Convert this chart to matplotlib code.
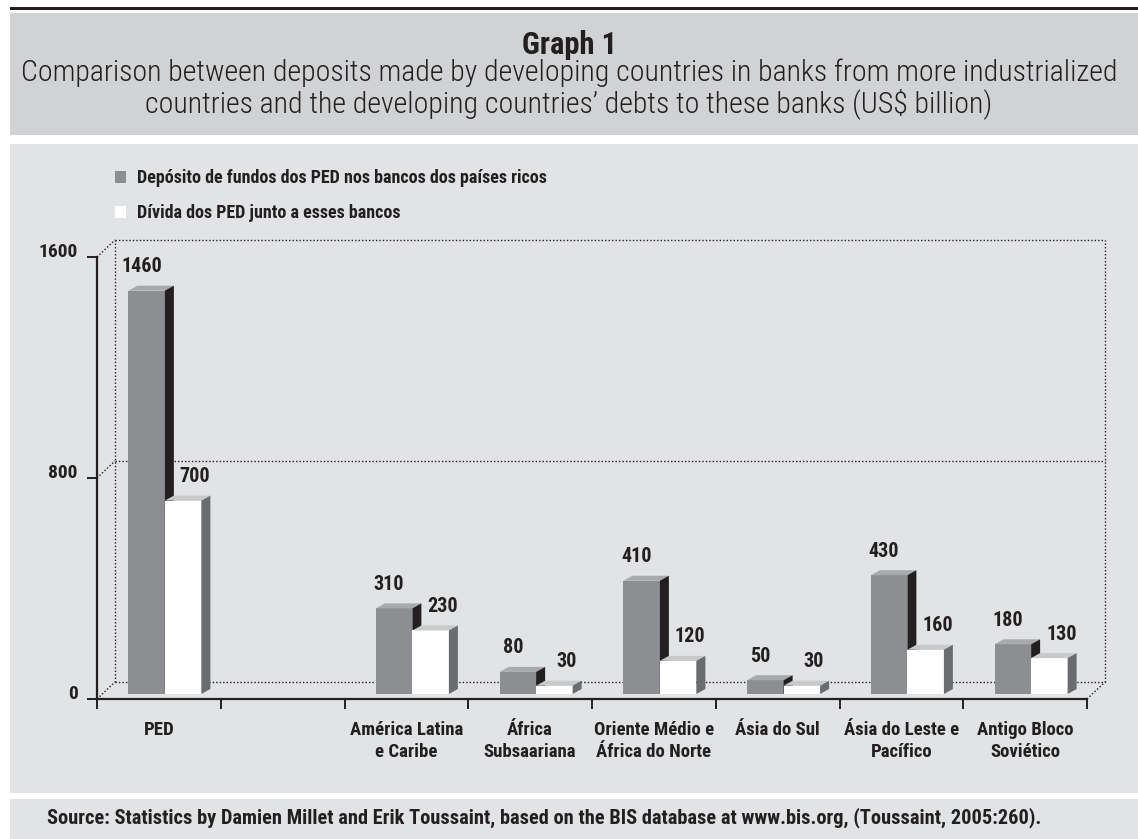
import numpy as np
import matplotlib
matplotlib.use("Agg")
import matplotlib.pyplot as plt
from matplotlib.patches import Rectangle, Polygon, Patch
from matplotlib.lines import Line2D
from matplotlib.transforms import offset_copy, IdentityTransform

plt.rcParams['font.family'] = ['Roboto Condensed', 'Liberation Sans Narrow', 'Open Sans Condensed',
                               'DejaVu Sans']
plt.rcParams['font.stretch'] = 'condensed'

# ---------------- data ----------------
categories = ["PED", "", "América Latina\ne Caribe", "África\nSubsaariana",
              "Oriente Médio e\nÁfrica do Norte", "Ásia do Sul",
              "Ásia do Leste e\nPacífico", "Antigo Bloco\nSoviético"]
deposits = [1460, np.nan, 310, 80, 410, 50, 430, 180]
debts = [700, np.nan, 230, 30, 120, 30, 160, 130]
yticks = [0, 800, 1600]
series_names = ["Depósito de fundos dos PED nos bancos dos países ricos",
                "Dívida dos PED junto a esses bancos"]
title = "Graph 1"
subtitle = ("Comparison between deposits made by developing countries in banks from more industrialized\n"
            "countries and the developing countries\u2019 debts to these banks (US$ billion)")
source = ("Source: Statistics by Damien Millet and Erik Toussaint, based on the BIS database at "
          "www.bis.org, (Toussaint, 2005:260).")

# ---------------- style ----------------
INK = '#231f20'
TITLE_BG = '#d1d2d4'
PLOT_BG = '#e2e3e5'
GRAY_FRONT, GRAY_TOP, GRAY_SIDE = '#8d8e91', '#a9aaac', '#231f20'
WHITE_FRONT, WHITE_TOP, WHITE_SIDE = '#ffffff', '#c8c9cb', '#6b6c6f'

W, H = 1138, 839
fig = plt.figure(figsize=(W / 100, H / 100), dpi=100)
fig.patch.set_facecolor('white')


def fx(px):
    return px / W


def fy(py):
    return 1 - py / H


# panels
fig.add_artist(Rectangle((fx(10), fy(9.8)), fx(1128), 3.2 / H, transform=fig.transFigure,
                         facecolor=INK, lw=0, zorder=0))
fig.add_artist(Rectangle((fx(10), fy(135)), fx(1128), 122 / H, transform=fig.transFigure,
                         facecolor=TITLE_BG, lw=0, zorder=0))
fig.add_artist(Rectangle((fx(10), fy(793)), fx(1128), 649 / H, transform=fig.transFigure,
                         facecolor=PLOT_BG, lw=0, zorder=0))
fig.add_artist(Rectangle((fx(10), fy(839)), fx(1128), 40 / H, transform=fig.transFigure,
                         facecolor=PLOT_BG, lw=0, zorder=0))

fig.text(fx(569), fy(45), title, ha='center', va='center', fontsize=22, weight='bold', color=INK)
fig.text(fx(569), fy(89), subtitle, ha='center', va='center', fontsize=21.5, weight='light',
         color=INK, linespacing=1.06)
fig.text(fx(47), fy(818), source, ha='left', va='center', fontsize=14.7, weight='bold', color=INK)

# ---------------- axes ----------------
ax = fig.add_axes([fx(97), fy(699), fx(990), 442 / H])
ax.patch.set_alpha(0)
n = len(categories)
x = np.arange(n)
w = 0.295

# front faces of the bars sit slightly inside the depth of the floor
bar_trans = offset_copy(ax.transData, fig=fig, x=6, y=5, units='dots')
DX, DY = 9, 5          # bar depth (px)
BX, BY = 18, 17        # wall depth (px)

ax.set_xlim(-0.5, n - 0.5)
ax.set_ylim(0, 1600)

dep = np.array(deposits, dtype=float)
dbt = np.array(debts, dtype=float)


def draw_bar(xl, val, front, top, side, z, label_dx):
    if np.isnan(val):
        return
    r = Rectangle((xl, 0), w, val, facecolor=front, edgecolor='none', transform=bar_trans,
                  zorder=z, clip_on=False)
    ax.add_patch(r)
    (x0, y0), (x1, y1) = bar_trans.transform([(xl, 0), (xl + w, val)])
    ax.add_patch(Polygon([(x0, y1), (x1, y1), (x1 + DX, y1 + DY), (x0 + DX, y1 + DY)],
                         closed=True, facecolor=top, edgecolor='none',
                         transform=IdentityTransform(), zorder=z + 0.05, clip_on=False))
    ax.add_patch(Polygon([(x1, y0), (x1 + DX, y0 + DY), (x1 + DX, y1 + DY), (x1, y1)],
                         closed=True, facecolor=side, edgecolor='none',
                         transform=IdentityTransform(), zorder=z + 0.05, clip_on=False))
    lt = offset_copy(ax.transData, fig=fig, x=6 + label_dx, y=5 + 24, units='dots')
    ax.text(xl + w / 2, val, f"{val:.0f}", transform=lt, ha='center', va='center',
            fontsize=14.5, weight='bold', color=INK, zorder=5)


# back wall (dotted)
wall = offset_copy(ax.transData, fig=fig, x=BX, y=BY, units='dots')
dot = dict(color=INK, lw=1.0, linestyle=(0, (1, 1.5)), clip_on=False, zorder=1)
for yv in yticks:
    ax.plot([-0.5, n - 0.5], [yv, yv], transform=wall, **dot)
ax.plot([-0.5, -0.5], [0, 1600], transform=wall, **dot)
ax.plot([n - 0.5, n - 0.5], [0, 1600], transform=wall, **dot)
for (xv, yv) in [(-0.5, 0), (-0.5, 800), (-0.5, 1600), (n - 0.5, 0)]:
    px, py = ax.transData.transform((xv, yv))
    ax.add_line(Line2D([px, px + BX], [py, py + BY], transform=IdentityTransform(), **dot))

for i in range(n):
    draw_bar(x[i] - w, dep[i], GRAY_FRONT, GRAY_TOP, GRAY_SIDE, 2 + i * 0.5, -5)
    draw_bar(x[i], dbt[i], WHITE_FRONT, WHITE_TOP, WHITE_SIDE, 2.2 + i * 0.5, 12)

ax.set_xlim(-0.5, n - 0.5)
ax.set_ylim(0, 1600)

for s in ['top', 'right']:
    ax.spines[s].set_visible(False)
for s in ['left', 'bottom']:
    ax.spines[s].set_linewidth(1.6)
    ax.spines[s].set_color(INK)
    ax.spines[s].set_zorder(6)

ax.set_yticks(yticks)
ax.set_yticklabels([str(v) for v in yticks])
ax.tick_params(axis='y', length=7, width=1.4, color=INK, pad=7, labelsize=14, labelcolor=INK)
for t in ax.get_yticklabels():
    t.set_fontweight('bold')
    t.set_va('baseline')

ax.set_xticks(np.arange(-0.5, n, 1.0))
ax.set_xticklabels([])
ax.set_xticks(x, minor=True)
ax.set_xticklabels(categories, minor=True)
ax.tick_params(axis='x', which='major', length=7, width=1.4, color=INK)
ax.tick_params(axis='x', which='minor', length=0, pad=16, labelsize=13.5, labelcolor=INK)
for t in ax.get_xticklabels(minor=True):
    t.set_fontweight('bold')
    t.set_linespacing(1.25)
    t.set_va('top')

fig.legend(handles=[Patch(facecolor=GRAY_FRONT, edgecolor='none'),
                    Patch(facecolor=WHITE_FRONT, edgecolor='none')],
           labels=series_names, loc='upper left', bbox_to_anchor=(fx(99), fy(153)),
           frameon=False, handlelength=0.6, handleheight=0.6, handletextpad=0.6,
           labelspacing=0.95, prop=dict(weight='bold', size=13), labelcolor=INK)

fig.savefig('out.png', dpi=100, facecolor=fig.get_facecolor())
